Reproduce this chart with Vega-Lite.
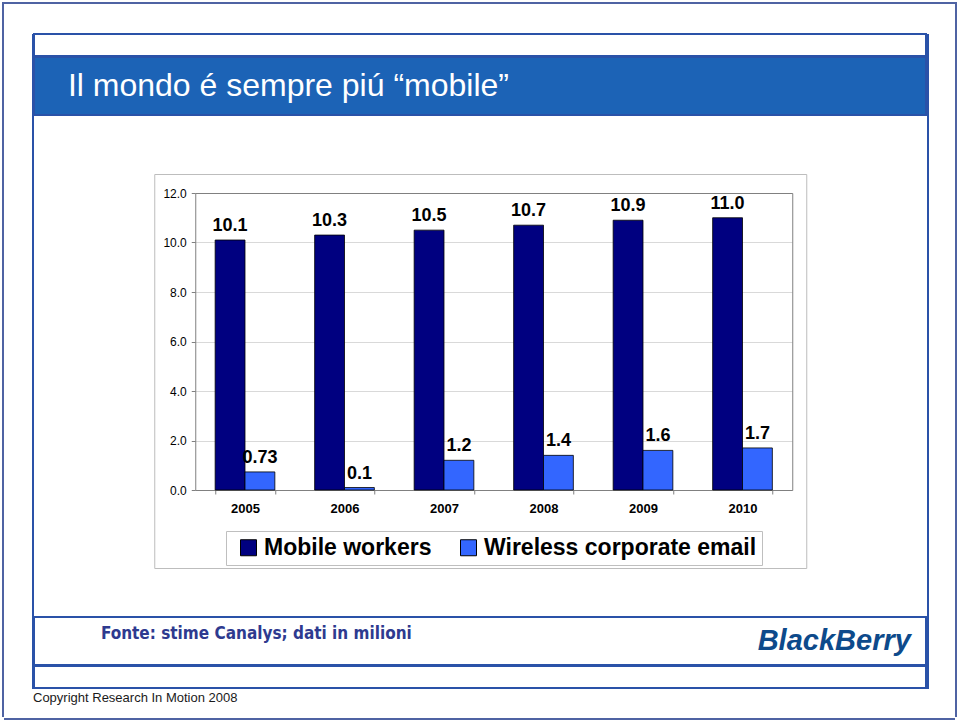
{
  "$schema": "https://vega.github.io/schema/vega-lite/v6.json",
  "background": "white",
  "padding": {"left": 2, "top": 2, "right": 0, "bottom": 0},
  "config": {
    "view": {"stroke": null},
    "font": "Liberation Sans"
  },
  "spacing": 0,
  "hconcat": [
    {"width": 2, "height": 715, "data": {"values": []}, "mark": "text", "view": {"fill": "#4F63A3", "stroke": null}},
    {
      "spacing": 29,
      "vconcat": [
        {"width": 951, "height": 2, "data": {"values": []}, "mark": "text", "view": {"fill": "#4F63A3", "stroke": null}},
        {
          "spacing": 13,
          "vconcat": [
            {
              "spacing": -2,
              "hconcat": [
                {"width": 28, "height": 10, "data": {"values": []}, "mark": "text"},
                {"width": 2, "height": 655, "data": {"values": []}, "mark": "text", "view": {"fill": "#2A52A8", "stroke": null}},
                {
                  "spacing": 57,
                  "title": {"text": "Copyright Research In Motion 2008", "orient": "bottom", "anchor": "start", "fontSize": 13, "fontWeight": "normal", "color": "#1a1a1a", "font": "Liberation Sans", "offset": 3},
                  "vconcat": [
                    {"spacing": -2, "vconcat": [
                      {"width": 892, "height": 22, "data": {"values": []}, "mark": "text", "view": {"stroke": "#2A52A8", "strokeWidth": 2, "fill": "white"}},
                      {"width": 892, "height": 58,
                       "data": {"values": [{"heading": "Il mondo é sempre piú “mobile”"}]},
                       "mark": {"type": "text", "align": "left", "baseline": "middle", "fontSize": 32, "color": "white", "font": "Liberation Sans"},
                       "encoding": {
                         "text": {"field": "heading"},
                         "x": {"datum": 0.038, "type": "quantitative", "scale": {"domain": [0, 1]}, "axis": null}
                       },
                       "view": {"fill": "#1C63B6", "stroke": "#2A52A8", "strokeWidth": 2}}
                    ]},
                    {"spacing": 47, "center": true, "vconcat": [
                      {
                        "width": 652, "height": 394,
                        "view": {"stroke": "#BDBDBD", "strokeWidth": 1, "fill": "white"},
                        "data": {"values": [
                          {"year": "2005", "series": "Mobile workers", "value": 10.1, "label": "10.1"},
                          {"year": "2006", "series": "Mobile workers", "value": 10.3, "label": "10.3"},
                          {"year": "2007", "series": "Mobile workers", "value": 10.5, "label": "10.5"},
                          {"year": "2008", "series": "Mobile workers", "value": 10.7, "label": "10.7"},
                          {"year": "2009", "series": "Mobile workers", "value": 10.9, "label": "10.9"},
                          {"year": "2010", "series": "Mobile workers", "value": 11.0, "label": "11.0"},
                          {"year": "2005", "series": "Wireless corporate email", "value": 0.73, "label": "0.73"},
                          {"year": "2006", "series": "Wireless corporate email", "value": 0.1, "label": "0.1"},
                          {"year": "2007", "series": "Wireless corporate email", "value": 1.2, "label": "1.2"},
                          {"year": "2008", "series": "Wireless corporate email", "value": 1.4, "label": "1.4"},
                          {"year": "2009", "series": "Wireless corporate email", "value": 1.6, "label": "1.6"},
                          {"year": "2010", "series": "Wireless corporate email", "value": 1.7, "label": "1.7"}
                        ]},
                        "resolve": {"axis": {"x": "independent", "y": "independent"}},
                        "layer": [
                          {
                            "mark": {"type": "bar", "stroke": "black", "strokeWidth": 0.8},
                            "encoding": {
                              "x": {"field": "year", "type": "nominal",
                                    "scale": {"range": [41, 638], "paddingInner": 0.4, "paddingOuter": 0.2},
                                    "axis": {"orient": "bottom", "offset": -78, "title": null, "labelAngle": 0, "tickBand": "extent", "tickSize": 4, "tickColor": "#808080", "domainColor": "#808080", "labelPadding": 8, "labelFontSize": 13, "labelFontWeight": "bold", "labelColor": "black", "labelFont": "Liberation Sans", "grid": false}},
                              "xOffset": {"field": "series", "type": "nominal", "scale": {"domain": ["Mobile workers", "Wireless corporate email"], "paddingInner": 0, "paddingOuter": 0}},
                              "y": {"field": "value", "type": "quantitative",
                                    "scale": {"domain": [0, 12], "range": [316, 19], "nice": false},
                                    "axis": {"orient": "left", "offset": -41, "values": [0, 2, 4, 6, 8, 10, 12], "format": ".1f", "title": null, "domainColor": "#808080", "tickColor": "#808080", "tickSize": 4, "labelPadding": 5, "labelFontSize": 12, "labelColor": "black", "labelFont": "Liberation Sans", "grid": true, "gridColor": "#D9D9D9"}},
                              "color": {"field": "series", "type": "nominal",
                                        "scale": {"domain": ["Mobile workers", "Wireless corporate email"], "range": ["#000080", "#3366FF"]},
                                        "legend": {"orient": "none", "legendX": 224, "legendY": 529, "direction": "horizontal", "title": null, "strokeColor": "#BFBFBF", "fillColor": "white", "padding": 5, "symbolType": "square", "symbolSize": 256, "symbolStrokeColor": "black", "symbolStrokeWidth": 1, "symbolOpacity": 1, "symbolOffset": 6, "labelOffset": 4, "columnPadding": 19, "labelFontSize": 23, "labelFontWeight": "bold", "labelFont": "Liberation Sans", "labelColor": "black", "labelLimit": 500}}
                            }
                          },
                          {
                            "mark": {"type": "text", "baseline": "alphabetic", "dy": -9, "fontSize": 18, "fontWeight": "bold", "font": "Liberation Sans", "color": "black"},
                            "encoding": {
                              "x": {"field": "year", "type": "nominal",
                                    "scale": {"range": [41, 638], "paddingInner": 0.4, "paddingOuter": 0.2},
                                    "axis": {"orient": "top", "offset": -19, "labels": false, "ticks": false, "grid": false, "domain": true, "domainColor": "#808080", "title": null}},
                              "xOffset": {"field": "series", "type": "nominal", "scale": {"domain": ["Mobile workers", "Wireless corporate email"], "paddingInner": 0, "paddingOuter": 0}},
                              "y": {"field": "value", "type": "quantitative",
                                    "scale": {"domain": [0, 12], "range": [316, 19], "nice": false},
                                    "axis": {"orient": "right", "offset": -14, "labels": false, "ticks": false, "grid": false, "domain": true, "domainColor": "#808080", "title": null}},
                              "text": {"field": "label"}
                            }
                          }
                        ]
                      },
                      {"spacing": -2, "vconcat": [
                        {"width": 892, "height": 48,
                         "view": {"stroke": "#2A52A8", "strokeWidth": 2, "fill": "white"},
                         "layer": [
                           {"data": {"values": [{"source": "Fonte: stime Canalys; dati in milioni"}]},
                            "mark": {"type": "text", "align": "left", "baseline": "middle", "fontSize": 17, "fontWeight": "bold", "font": "DejaVu Sans Condensed", "color": "#2E3A8F"},
                            "encoding": {
                              "text": {"field": "source"},
                              "x": {"datum": 0.075, "type": "quantitative", "scale": {"domain": [0, 1]}, "axis": null},
                              "y": {"datum": 0.646, "type": "quantitative", "scale": {"domain": [0, 1]}, "axis": null}
                            }},
                           {"data": {"values": [{"brand": "BlackBerry"}]},
                            "mark": {"type": "text", "align": "right", "baseline": "middle", "fontSize": 29, "fontWeight": "bold", "fontStyle": "italic", "font": "Liberation Sans", "color": "#0D4A8B"},
                            "encoding": {
                              "text": {"field": "brand"},
                              "x": {"datum": 0.983, "type": "quantitative", "scale": {"domain": [0, 1]}, "axis": null},
                              "y": {"datum": 0.5, "type": "quantitative", "scale": {"domain": [0, 1]}, "axis": null}
                            }}
                         ]},
                        {"width": 892, "height": 22, "data": {"values": []}, "mark": "text", "view": {"stroke": "#2A52A8", "strokeWidth": 2, "fill": "white"}}
                      ]}
                    ]}
                  ]
                },
                {"width": 2, "height": 655, "data": {"values": []}, "mark": "text", "view": {"fill": "#2A52A8", "stroke": null}}
              ]
            },
            {"width": 951, "height": 2, "data": {"values": []}, "mark": "text", "view": {"fill": "#4F63A3", "stroke": null}}
          ]
        }
      ]
    },
    {"width": 2, "height": 715, "data": {"values": []}, "mark": "text", "view": {"fill": "#4F63A3", "stroke": null}}
  ]
}
